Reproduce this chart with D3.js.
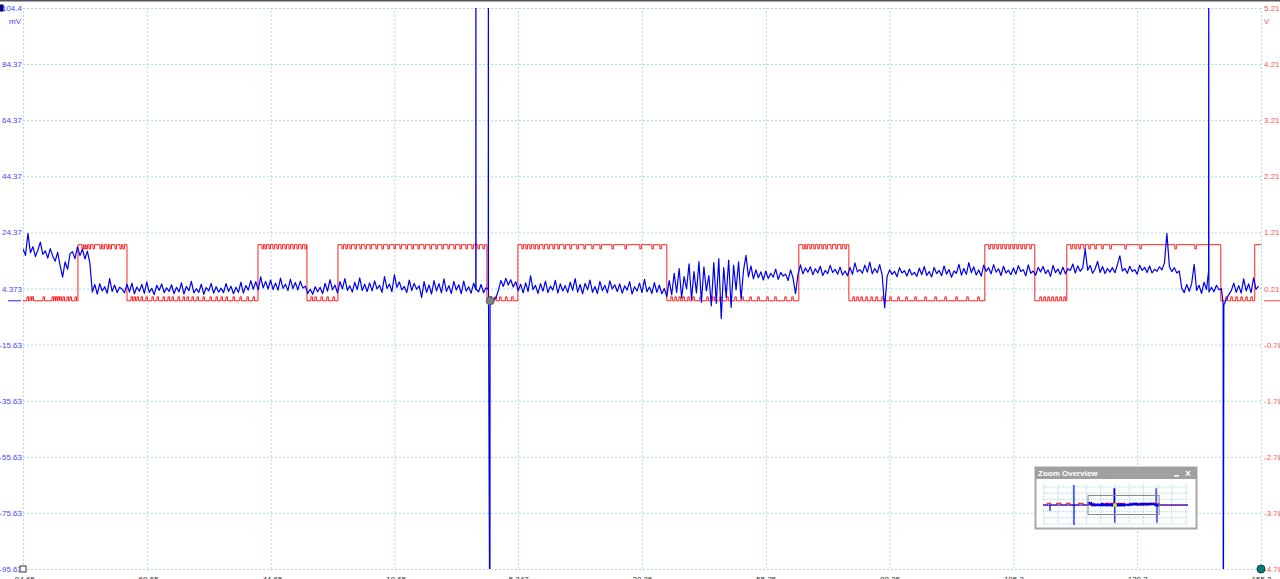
<!DOCTYPE html>
<html><head><meta charset="utf-8">
<script src="https://cdn.jsdelivr.net/npm/d3@7/dist/d3.min.js"></script>
<style>html,body{margin:0;padding:0;background:#fff;overflow:hidden}svg{display:block}</style>
</head><body>
<svg id="c" width="1280" height="579"></svg>
<script>
// ---------- data ----------
const xTicks = [-94.65, -69.65, -44.65, -19.65, 5.347, 30.35, 55.35, 80.35, 105.35, 130.35, 155.35];
const xTickLabels = ["-94.65", "-69.65", "-44.65", "-19.65", "5.347", "30.35", "55.35", "80.35", "105.3", "130.3", "155.3"];
const mvTicks = [104.37, 84.37, 64.37, 44.37, 24.37, 4.373, -15.63, -35.63, -55.63, -75.63, -95.63];
const mvTickLabels = ["104.4", "84.37", "64.37", "44.37", "24.37", "4.373", "-15.63", "-35.63", "-55.63", "-75.63", "-95.63"];
const vTicks = [5.219, 4.219, 3.219, 2.219, 1.219, 0.219, -0.781, -1.781, -2.781, -3.781, -4.781];
const vTickLabels = ["5.219", "4.219", "3.219", "2.219", "1.219", "0.219", "-0.781", "-1.781", "-2.781", "-3.781", "-4.781"];

// blue channel (mV), sampled every 0.5 ms from -94.65
const blueStart = -94.65;
const blueStep = 0.5;
const blueValues = [
 18.5,16.2,24.0,17.1,19.3,15.8,18.0,20.9,16.5,17.8,15.2,18.6,16.0,14.1,17.3,12.5,8.4,13.9,11.2,16.8,
 17.5,15.0,19.2,16.1,18.4,14.9,17.7,13.5,3.1,5.8,2.4,6.1,3.5,5.0,2.7,7.9,3.3,5.6,2.9,4.8,
 4.2,2.8,5.9,3.1,6.3,2.5,4.9,3.4,5.8,2.6,6.7,3.0,4.4,2.2,5.5,3.7,6.0,2.9,4.6,3.3,
 5.7,2.6,4.8,3.2,6.4,2.4,5.1,3.6,6.9,2.8,4.3,3.0,5.9,2.3,4.7,3.5,6.2,2.7,5.0,3.1,
 4.5,2.9,6.1,3.3,5.2,2.5,4.8,3.0,6.6,2.7,5.4,3.8,7.2,4.1,6.8,3.9,8.5,4.6,6.9,4.2,
 7.4,4.0,6.3,3.8,8.1,4.4,5.9,3.6,7.7,4.3,6.5,3.9,7.0,4.5,5.2,2.6,4.1,2.3,5.0,3.2,
 4.8,2.5,6.2,3.4,7.5,3.9,5.6,2.8,6.8,4.2,7.9,3.7,5.3,3.1,6.6,4.0,8.2,3.6,5.9,3.3,
 6.4,3.5,7.1,4.2,5.5,3.0,8.6,4.4,6.0,3.2,9.3,4.8,6.7,3.9,5.1,2.9,7.4,3.6,6.2,4.1,
 5.3,1.2,6.8,3.0,5.6,2.4,7.2,3.5,6.1,2.8,7.8,3.3,5.4,2.6,6.9,3.8,5.7,2.5,7.0,3.4,
 5.0,2.7,6.3,4.1,3.2,5.8,2.9,4.6,3.5,1.5,0.4,0.9,3.8,7.2,5.1,8.0,5.6,7.5,4.9,6.8,
 3.6,5.9,2.8,6.4,3.3,8.9,4.0,5.5,2.6,6.1,3.4,7.0,2.9,5.2,3.8,7.3,2.7,6.0,3.5,5.4,
 2.9,6.6,3.7,7.9,3.1,5.8,2.5,6.2,3.9,7.4,3.0,5.1,2.6,6.9,3.6,5.5,2.8,7.1,4.2,5.7,
 3.3,6.0,2.7,5.3,3.8,6.8,2.4,5.0,3.5,6.3,2.9,7.6,3.2,4.9,2.6,6.5,3.0,5.6,2.5,4.4,
 1.5,7.2,2.1,9.8,3.0,11.5,1.0,8.6,4.2,13.2,0.5,10.4,2.8,14.0,-0.5,12.1,3.5,9.0,-1.8,13.6,
 -0.9,15.0,-6.3,11.8,1.2,14.5,-2.4,12.7,3.9,13.9,0.6,10.8,16.2,8.5,12.4,7.8,11.0,8.2,10.3,7.4,
 10.6,7.9,9.8,8.4,11.3,7.6,10.1,8.8,9.5,7.2,11.0,8.1,2.5,9.4,12.8,9.6,11.7,10.2,12.1,9.3,
 11.4,9.9,12.3,9.0,10.8,9.7,12.6,10.1,11.2,9.5,12.0,9.2,10.6,8.9,11.9,9.4,13.5,10.3,11.1,9.8,
 12.7,10.2,13.8,9.6,11.5,10.0,12.9,9.1,-2.5,8.7,11.0,9.4,10.5,8.6,11.8,9.9,10.7,8.8,11.3,9.2,
 10.1,8.7,11.6,9.3,12.2,9.0,10.4,8.5,11.9,9.7,10.8,8.9,12.4,9.5,11.1,8.4,10.6,9.8,13.0,9.1,
 11.5,9.4,13.6,10.0,12.1,9.2,11.0,8.8,12.7,10.5,11.8,9.6,12.9,10.2,11.4,9.0,12.3,9.9,10.9,9.3,
 11.7,9.5,12.5,10.4,11.1,8.9,12.8,9.8,10.6,9.1,11.9,10.3,12.2,9.7,11.0,8.7,12.6,10.0,11.3,9.4,
 12.0,9.6,11.4,10.8,13.1,9.9,12.4,10.5,11.7,18.4,10.9,12.6,9.8,11.3,14.0,10.1,12.2,9.7,11.5,10.2,
 11.8,10.0,12.9,16.0,10.6,11.5,9.8,12.3,10.4,11.1,9.5,12.7,10.8,11.9,10.1,12.4,9.9,11.2,10.5,12.1,
 11.0,13.5,24.0,12.2,10.4,11.8,9.9,10.6,4.5,2.9,5.8,3.4,6.1,13.0,3.7,5.5,2.6,6.6,4.0,3.1,
 4.8,3.2,5.5,3.9,4.4,-1.5,0.5,2.2,3.6,6.3,3.0,5.4,2.7,7.8,3.5,6.0,2.9,8.2,4.1,5.2
];
// large blue transients (off-scale): each one rises from and returns to the trace level
const spikeTimes = [-3.22, -3.19, -3.16, -0.70, -0.67, -0.36, -0.33, 144.77, 144.80, 144.83, 147.70, 147.73];
const spikeValues = [4.0, 140, 4.0, 4.2, 140, -140, 0.5, 10.6, 140, 4.5, -1.0, -140];

// red channel (V): segment start times and levels
const redEdgeTimes = [-94.65, -83.55, -73.65, -47.20, -37.31, -31.05, -0.97, 5.29, 35.37, 62.02, 72.12, 99.58, 109.67, 116.13, 147.23, 154.09];
const redLevels = [0, 1, 0, 1, 0, 1, 0, 1, 0, 1, 0, 1, 0, 1, 0, 1];
const redEnd = 155.35;
// short glitches on the red trace
const redGlitchTimes = [
 -93.84,-93.24,-92.83,-90.61,-88.79,-88.39,-87.99,-87.58,-87.18,-86.57,-85.77,-85.16,-84.15,
 -82.74,-82.33,-81.93,-81.32,-80.52,-79.10,-78.50,-77.69,-77.08,-76.07,-75.07,-74.46,
 -72.84,-72.24,-71.63,-70.82,-69.82,-68.61,-67.60,-66.38,-65.38,-64.57,-63.36,-62.35,-61.54,-60.53,-59.52,-58.31,-56.90,-55.68,-54.67,-53.66,-52.25,-50.84,-49.42,-48.21,
 -46.40,-45.79,-44.98,-44.18,-43.37,-42.56,-41.75,-40.94,-40.14,-39.33,-38.52,-37.72,
 -36.50,-35.70,-34.49,-33.28,-32.07,
 -30.24,-29.44,-28.63,-27.62,-26.61,-25.60,-24.59,-23.38,-22.17,-20.96,-19.74,-18.53,-17.32,-16.11,-14.90,-13.69,-12.48,-11.27,-10.06,-8.84,-7.63,-6.42,-5.21,-4.00,-2.79,-1.78,
 -0.42,0.59,1.60,2.81,4.02,
 6.10,6.91,7.71,8.52,9.33,10.34,11.35,12.36,13.37,14.58,15.79,17.20,18.62,20.23,21.85,24.27,26.90,29.92,32.35,33.96,
 36.18,36.99,37.80,38.60,39.61,40.62,42.03,43.44,44.66,46.07,47.48,49.10,50.51,52.13,53.73,55.55,57.16,59.18,60.59,
 62.83,63.44,64.25,65.05,65.86,66.67,67.48,68.49,69.50,70.51,71.31,
 72.93,73.73,74.54,75.55,76.56,77.57,78.78,80.39,82.01,83.62,85.44,87.46,89.48,91.50,93.72,95.94,98.16,
 100.39,101.20,102.00,102.81,103.62,104.43,105.24,106.04,106.85,107.66,108.67,
 110.69,111.50,112.30,113.11,113.92,114.73,115.54,
 116.94,117.75,118.56,119.57,120.58,121.79,123.20,124.82,127.85,130.88,137.95,141.98,
 148.24,149.25,150.26,151.27,152.28,153.29
];

// zoom-overview: wider record outside the main window
const ovBlueTimes = [-253, -229.0, -228.4, -227.8, -144.4, -144.2, -143.9, -143.6, -95.0, 155.6, 257];
const ovBlueValues = [4, 4, -45, 4, 4, 300, -300, 4, 4, 4, 4];
const ovRedTimes = [-253, -238, -226, -205, -190, -170, -158, -128, -112, -95];
const ovRedLevels = [0, 1, 0, 1, 0, 1, 0, 1, 0, 0];
const ovRange = [-253, 257];

// ---------- chart ----------
const svg = d3.select("#c");
const L = 23, R = 1261, T = 8, B = 569;
const FONT = "'Liberation Sans', Arial, sans-serif";
const x = d3.scaleLinear().domain([-94.65, 155.35]).range([L, R]);
const yMv = d3.scaleLinear().domain([-95.63, 104.37]).range([B, T]);
const yV = d3.scaleLinear().domain([-4.781, 5.219]).range([B, T]);
const gridColor = "#a9d9ea";

// top border line
svg.append("line").attr("x1", 0).attr("x2", 1280).attr("y1", 0.75).attr("y2", 0.75)
  .attr("stroke", "#555").attr("stroke-width", 1.5);

// vertical grid + bottom labels
const xAxis = svg.append("g").attr("transform", `translate(0,${B})`)
  .call(d3.axisBottom(x).tickValues(xTicks).tickFormat((d, i) => xTickLabels[i])
    .tickSize(-(B - T)).tickPadding(7));
xAxis.select(".domain").remove();
xAxis.selectAll("line").attr("stroke", gridColor).attr("stroke-dasharray", "2,2");
xAxis.selectAll("text").attr("fill", "#333").style("font", `8px ${FONT}`);

// horizontal grid + left labels
const yAxis = svg.append("g").attr("transform", `translate(${L},0)`)
  .call(d3.axisLeft(yMv).tickValues(mvTicks).tickFormat((d, i) => mvTickLabels[i])
    .tickSize(-(R - L)).tickPadding(1));
yAxis.select(".domain").remove();
yAxis.selectAll("line").attr("stroke", gridColor).attr("stroke-dasharray", "2,2");
yAxis.selectAll("text").attr("fill", "#4444ff").style("font", `8px ${FONT}`);

// right labels
const yAxisR = svg.append("g").attr("transform", `translate(${R},0)`)
  .call(d3.axisRight(yV).tickValues(vTicks).tickFormat((d, i) => vTickLabels[i])
    .tickSize(0).tickPadding(3));
yAxisR.select(".domain").remove();
yAxisR.selectAll("text").attr("fill", "#ff5555").style("font", `8px ${FONT}`);

// unit labels
svg.append("text").attr("x", 21).attr("y", 24).attr("text-anchor", "end")
  .attr("fill", "#4444ff").style("font", `8px ${FONT}`).text("mV");
svg.append("text").attr("x", 1264).attr("y", 24)
  .attr("fill", "#ff5555").style("font", `8px ${FONT}`).text("V");

// zero markers
svg.append("line").attr("x1", 8).attr("x2", 21).attr("y1", yMv(0)).attr("y2", yMv(0))
  .attr("stroke", "#2222ff").attr("stroke-width", 1);
svg.append("line").attr("x1", 1264).attr("x2", 1280).attr("y1", yV(0)).attr("y2", yV(0))
  .attr("stroke", "#ff4444").attr("stroke-width", 1);

// clip
svg.append("defs").append("clipPath").attr("id", "plot")
  .append("rect").attr("x", L).attr("y", T).attr("width", R - L).attr("height", B - T);

// red trace
const redPts = [];
redEdgeTimes.forEach((t0, i) => {
  const t1 = i + 1 < redEdgeTimes.length ? redEdgeTimes[i + 1] : redEnd;
  const lv = redLevels[i];
  redPts.push([t0, lv]);
  redGlitchTimes.filter(g => g > t0 && g < t1 - 0.3).forEach(g => {
    redPts.push([g, lv === 1 ? lv - 0.075 : lv + 0.07]);
    redPts.push([g + 0.3, lv]);
  });
});
redPts.push([redEnd, redLevels[redLevels.length - 1]]);
svg.append("path").attr("clip-path", "url(#plot)")
  .attr("d", d3.line().x(d => x(d[0])).y(d => yV(d[1])).curve(d3.curveStepAfter)(redPts))
  .attr("fill", "none").attr("stroke", "#ff2020").attr("stroke-width", 1);

// blue trace
const bluePts = blueValues.map((v, i) => [blueStart + i * blueStep, v]);
spikeTimes.forEach((t, i) => bluePts.push([t, spikeValues[i]]));
bluePts.sort((a, b) => a[0] - b[0]);
svg.append("path").attr("clip-path", "url(#plot)")
  .attr("d", d3.line().x(d => x(d[0])).y(d => yMv(d[1]))(bluePts))
  .attr("fill", "none").attr("stroke", "#0000f0").attr("stroke-width", 1.2)
  .attr("stroke-linejoin", "round");

// markers
svg.append("circle").attr("cx", x(-0.30)).attr("cy", yMv(0)).attr("r", 4)
  .attr("fill", "#808080").attr("stroke", "#606060");
svg.append("rect").attr("x", -3).attr("y", 5).attr("width", 6).attr("height", 6)
  .attr("fill", "#0000bb").attr("stroke", "#000033");
svg.append("rect").attr("x", L - 3).attr("y", B - 3).attr("width", 6).attr("height", 6)
  .attr("fill", "#fff").attr("stroke", "#333").attr("stroke-width", 1);
svg.append("circle").attr("cx", R).attr("cy", B).attr("r", 4)
  .attr("fill", "#0a7c78").attr("stroke", "#064a48");

// ---------- zoom overview ----------
const ov = svg.append("g");
const OX = 1035, OY = 467, OW = 161, OH = 61;
ov.append("rect").attr("x", OX + 0.5).attr("y", OY + 0.5).attr("width", OW).attr("height", OH)
  .attr("fill", "#fff").attr("stroke", "#a8a8a8").attr("stroke-width", 2);
ov.append("rect").attr("x", OX).attr("y", OY).attr("width", OW + 1).attr("height", 12)
  .attr("fill", "#a0a0a0");
ov.append("text").attr("x", OX + 3).attr("y", OY + 9).attr("fill", "#fff")
  .style("font", `bold 8px ${FONT}`).text("Zoom Overview");
ov.append("rect").attr("x", OX + OW - 22).attr("y", OY + 8).attr("width", 5).attr("height", 1.5)
  .attr("fill", "#fff");
ov.append("text").attr("x", OX + OW - 11).attr("y", OY + 10).attr("fill", "#fff")
  .style("font", `bold 10px ${FONT}`).text("×");
const ox = d3.scaleLinear().domain(ovRange).range([1043, 1188]);
const oyMv = d3.scaleLinear().domain([-150, 158]).range([524, 486]);
const oyV = d3.scaleLinear().domain([-12, 12]).range([524, 486]);
ox.ticks(14).forEach(t => ov.append("line").attr("x1", ox(t)).attr("x2", ox(t)).attr("y1", 484).attr("y2", 524)
  .attr("stroke", gridColor).attr("stroke-dasharray", "1,1"));
oyMv.ticks(6).forEach(t => ov.append("line").attr("x1", 1043).attr("x2", 1188).attr("y1", oyMv(t)).attr("y2", oyMv(t))
  .attr("stroke", gridColor).attr("stroke-dasharray", "1,1"));
const ovRedPts = ovRedTimes.map((t, i) => [t, ovRedLevels[i]]).concat(redPts)
  .concat([[156, 0], [257, 0]]);
ov.append("path").attr("d", d3.line().x(d => ox(d[0])).y(d => oyV(d[1])).curve(d3.curveStepAfter)(ovRedPts))
  .attr("fill", "none").attr("stroke", "#ff3030").attr("stroke-width", 1.2);
const ovBluePts = ovBlueTimes.map((t, i) => [t, ovBlueValues[i]]).concat(bluePts).sort((a, b) => a[0] - b[0]);
ov.append("clipPath").attr("id", "ovc").append("rect").attr("x", 1043).attr("y", 485).attr("width", 145).attr("height", 40);
ov.append("path").attr("clip-path", "url(#ovc)")
  .attr("d", d3.line().x(d => ox(d[0])).y(d => oyMv(d[1]))(ovBluePts))
  .attr("fill", "none").attr("stroke", "#0000ee").attr("stroke-width", 1.1);
ov.append("rect").attr("x", ox(-94.65)).attr("y", 495.5).attr("width", ox(155.35) - ox(-94.65)).attr("height", 19)
  .attr("fill", "none").attr("stroke", "#8a8a8a").attr("stroke-width", 1);
ov.append("circle").attr("cx", ox(0)).attr("cy", oyMv(4)).attr("r", 2).attr("fill", "#e8e020");
</script>
</body></html>
